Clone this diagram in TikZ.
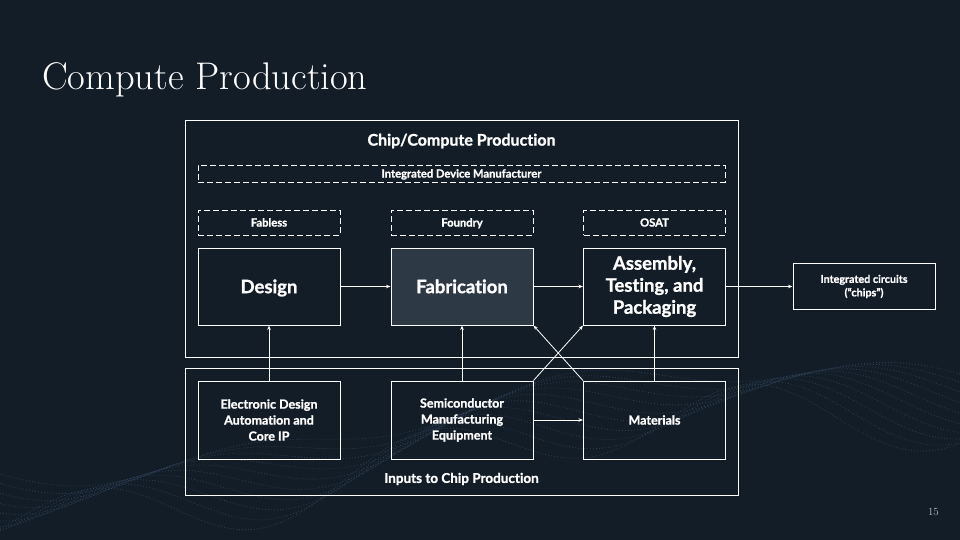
\documentclass[tikz,border=0pt]{standalone}
\usepackage{fontspec}
\setsansfont{Lato}[Ligatures=NoCommon, BoldFeatures={FakeBold=1.2}]
\usetikzlibrary{arrows.meta}
\definecolor{bg}{HTML}{131D28}
\definecolor{fabfill}{HTML}{2E3946}
\definecolor{wavec}{HTML}{31465C}
\definecolor{pgnum}{HTML}{B8BEC6}
\tikzset{
  sbox/.style={draw=white, line width=1pt, minimum width=142pt, inner sep=0pt, align=center, text=white},
  bigbox/.style={sbox, minimum height=77pt, font=\sffamily\bfseries\fontsize{18.5}{22}\selectfont},
  oneline/.style={text height=13.3pt, text depth=-1.5pt},
  inbox/.style={sbox, minimum height=78pt, font=\sffamily\bfseries\fontsize{12.5}{16}\selectfont},
  dbox/.style={draw=white, line width=0.9pt, dash pattern=on 6pt off 3pt, inner sep=0pt, text=white, text height=8.1pt, text depth=0pt, font=\sffamily\bfseries\fontsize{11.2}{12}\selectfont},
  frame/.style={draw=white, line width=1pt, inner sep=0pt},
  arr/.style={draw=white, line width=0.8pt, -{Stealth[length=4.5pt,width=3.5pt]}},
  lbl/.style={text=white, font=\sffamily\bfseries, inner sep=0pt},
  wave/.style={draw=wavec, line width=0.8pt, dash pattern=on 0.8pt off 2.2pt, opacity=0.8}
}
\begin{document}
\begin{tikzpicture}[x=1pt,y=-1pt]
\fill[bg] (0,0) rectangle (960,540);
\useasboundingbox (0,0) rectangle (960,540);
% background waves
\foreach \k in {0,...,9}{
  \draw[wave] plot[domain=0:960, samples=160, smooth] (\x, {458 + 5*\k - 0.09*\x + (12+2*\k)*sin(1.1*\x + 18*\k) + 25*sin(0.35*\x+40)});
}
% title
\node[anchor=base west, text=white, font=\rmfamily\fontsize{38.5}{44}\selectfont, inner sep=0pt] (title) at (42,90) {Compute Production};
\node[anchor=base east, text=pgnum, font=\rmfamily\fontsize{11}{13}\selectfont, inner sep=0pt] (pg) at (939,515) {15};
% frames
\node[frame, minimum width=553pt, minimum height=236pt] (top) at (461.5,239) {};
\node[frame, minimum width=553pt, minimum height=127pt] (bot) at (461.5,431.5) {};
\node[lbl, font=\sffamily\bfseries\fontsize{16}{18}\selectfont] (toplbl) at (461.5,141) {Chip/Compute Production};
\node[lbl, font=\sffamily\bfseries\fontsize{13.5}{15}\selectfont] (botlbl) at (461.5,479) {Inputs to Chip Production};
% dashed boxes
\node[dbox, minimum width=527pt, minimum height=17pt] (idm) at (461.5,173.5) {Integrated Device Manufacturer};
\node[dbox, minimum width=142pt, minimum height=25pt] (fabless) at (269,222.5) {Fabless};
\node[dbox, minimum width=142pt, minimum height=25pt] (foundry) at (462,222.5) {Foundry};
\node[dbox, minimum width=142pt, minimum height=25pt] (osat) at (654.5,222.5) {OSAT};
% main boxes
\node[bigbox, oneline] (design) at (269,286.5) {Design};
\node[bigbox, oneline, fill=fabfill] (fab) at (462,286.5) {Fabrication};
\node[bigbox] (atp) at (654.5,286.5) {Assembly,\\Testing, and\\Packaging};
\node[sbox, minimum height=46pt, font=\sffamily\bfseries\fontsize{10.8}{13.5}\selectfont] (ic) at (864,286.5) {Integrated circuits\\(``chips'')};
% inputs
\node[inbox] (eda) at (269,420) {Electronic Design\\Automation and\\Core IP};
\node[inbox] (sme) at (462,420) {Semiconductor\\Manufacturing\\Equipment};
\node[inbox] (mat) at (654.5,420) {Materials};
% arrows
\draw[arr] (design) -- (fab);
\draw[arr] (fab) -- (atp);
\draw[arr] (atp) -- (ic);
\draw[arr] (eda) -- (design);
\draw[arr] (sme) -- (fab);
\draw[arr] (mat) -- (atp);
\draw[arr] (sme) -- (mat);
\draw[arr] (sme.north east) -- (atp.south west);
\draw[arr] (mat.north west) -- (fab.south east);
\end{tikzpicture}
\end{document}
